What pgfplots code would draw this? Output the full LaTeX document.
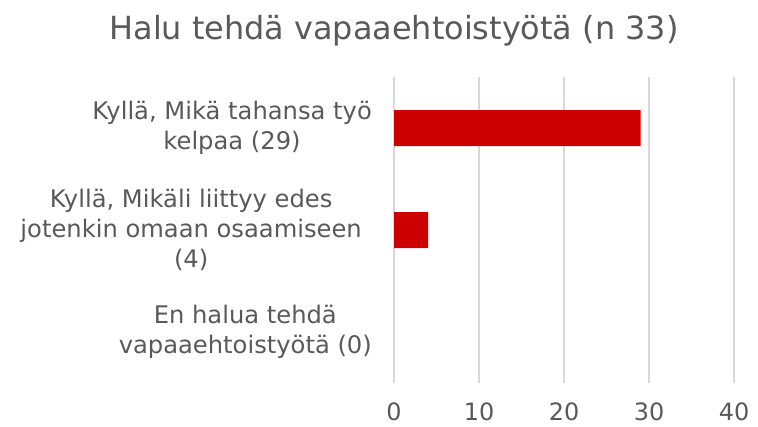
\documentclass[border=0pt]{standalone}
\usepackage{pgfplots}
\pgfplotsset{compat=1.18}
\usepackage{fontspec}
\setmainfont{DejaVu Sans}
\definecolor{txt}{HTML}{595959}
\definecolor{gridc}{HTML}{D9D9D9}
\definecolor{barc}{HTML}{CC0000}
\newcommand{\pad}{\rule{10bp}{0pt}}
\begin{document}
\begin{tikzpicture}[x=1bp,y=1bp]
\path[use as bounding box] (0,0) rectangle (758,426);
\node[anchor=base, text=txt, inner sep=0pt, font=\fontsize{32}{38}\selectfont] at (394,387) {Halu tehdä vapaaehtoistyötä (n 33)};
\begin{axis}[
  at={(394bp,43bp)}, anchor=south west,
  width=340bp, height=306bp, scale only axis,
  xbar, bar width=36bp,
  xmin=0, xmax=40, ymin=-0.5, ymax=2.5, y dir=reverse,
  xtick={0,10,20,30,40}, ytick={0,1,2},
  yticklabels={{Kyllä, Mikä tahansa työ\\kelpaa (29)},{Kyllä, Mikäli liittyy edes\pad\\jotenkin omaan osaamiseen\pad\\(4)\pad},{En halua tehdä\\vapaaehtoistyötä (0)}},
  axis line style={draw=none},
  xmajorgrids, major grid style={gridc, line width=1.5bp},
  tick style={draw=none}, major tick length=0pt,
  /pgf/number format/assume math mode=true,
  xticklabel style={text=txt, font=\fontsize{24}{30}\selectfont, inner sep=0pt, anchor=north, yshift=-20bp},
  yticklabel style={text=txt, font=\fontsize{24.3}{30.5}\selectfont, inner sep=0pt, anchor=east, align=center, xshift=-22bp},
  clip=false,
]
% third category has value 0 (no visible bar)
\addplot[fill=barc, draw=none] coordinates {(29,0) (4,1)};
\end{axis}
\end{tikzpicture}
\end{document}
